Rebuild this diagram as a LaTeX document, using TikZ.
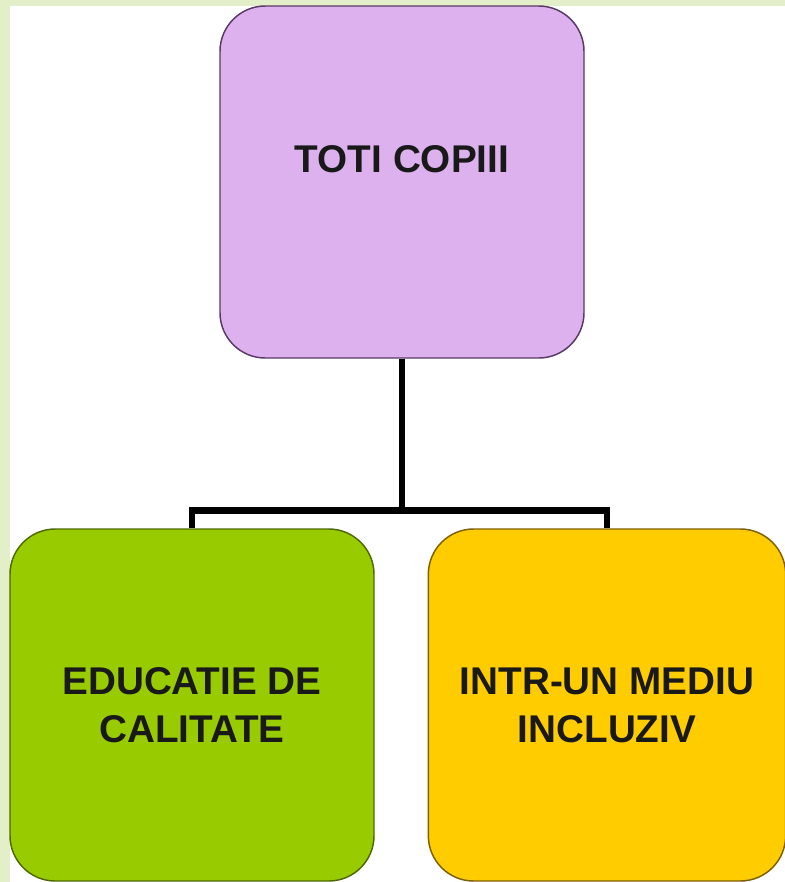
\documentclass[tikz,border=0pt]{standalone}
\usepackage{fontspec}
\setmainfont{Liberation Sans}
\usetikzlibrary{positioning}

\definecolor{framegreen}{HTML}{E3EFC8}
\definecolor{lilac}{HTML}{DDB0EE}
\definecolor{lilacline}{HTML}{5A3A66}
\definecolor{limegreen}{HTML}{99CC00}
\definecolor{limeline}{HTML}{4F6B00}
\definecolor{goldyellow}{HTML}{FFCC00}
\definecolor{goldline}{HTML}{7F6000}

\begin{document}
\begin{tikzpicture}[x=0.75pt,y=-0.75pt,
    box/.style={draw, line width=1.1pt, rounded corners=34pt, minimum width=273pt, minimum height=264pt, inner sep=0pt, align=center, text=black!90, font=\bfseries\fontsize{29}{36}\selectfont},
    link/.style={line width=5pt}]
    %% Frame
    \useasboundingbox (0,0) rectangle (785,882);
    \fill[framegreen] (0,0) rectangle (785,882);
    \fill[white] (10,6) rectangle (785,882);
    %% Boxes
    \node[box, fill=lilac, draw=lilacline, text depth=34pt] (all) at (402,182) {TOTI COPIII};
    \node[box, fill=limegreen, draw=limeline] (quality) at (192,705) {EDUCATIE DE\\CALITATE};
    \node[box, fill=goldyellow, draw=goldline, minimum width=268pt] (inclusive) at (607,705) {INTR-UN MEDIU\\INCLUZIV};
    %% Connectors
    \draw[link] (all.south) -- ++(0,152) coordinate (fork);
    \draw[link] (quality.north) |- (fork) -| (inclusive.north);
\end{tikzpicture}
\end{document}
